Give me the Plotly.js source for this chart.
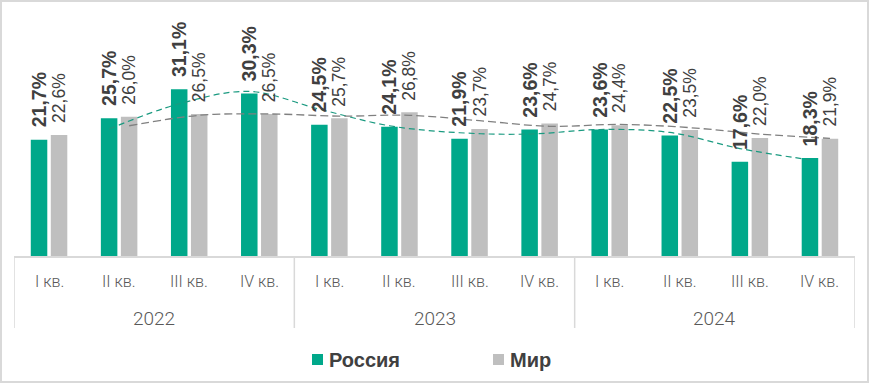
<!DOCTYPE html>
<html>
<head>
<meta charset="utf-8">
<script src="https://cdn.plot.ly/plotly-3.0.1.min.js"></script>
<style>
  html, body { margin: 0; padding: 0; background: #fff; }
  #wrap { position: relative; width: 869px; height: 383px; }
  #chart { width: 869px; height: 383px; }
  #frame { position: absolute; left: 0; top: 0; width: 869px; height: 383px; box-sizing: border-box; border: 2px solid #d9d9d9; pointer-events: none; }
</style>
</head>
<body>
<div id="wrap"><div id="chart"></div><div id="frame"></div></div>
<script>
// ---- data ----
const quarters = ['I кв.', 'II кв.', 'III кв.', 'IV кв.', 'I кв.', 'II кв.', 'III кв.', 'IV кв.', 'I кв.', 'II кв.', 'III кв.', 'IV кв.'];
const years = ['2022', '2023', '2024'];
const seriesNames = ['Россия', 'Мир'];
const russia = [21.7, 25.7, 31.1, 30.3, 24.5, 24.1, 21.9, 23.6, 23.6, 22.5, 17.6, 18.3];
const world  = [22.6, 26.0, 26.5, 26.5, 25.7, 26.8, 23.7, 24.7, 24.4, 23.5, 22.0, 21.9];
// trend lines (2-period moving average as drawn in the picture)
const trendRussia = [null, 23.7, 28.4, 30.7, 27.4, 24.3, 23.0, 22.75, 23.6, 23.05, 20.05, 17.95];
const trendWorld  = [null, 24.3, 26.25, 26.5, 26.1, 26.25, 25.25, 24.2, 24.55, 23.95, 22.75, 21.95];

// ---- styling / layout ----
const teal = '#00A88A', gray = '#BFBFBF';
const txt = '#404040';
const FONT = '"Liberation Sans", Arial, sans-serif';
const LIGHT = 'Roboto, "Liberation Sans", sans-serif';
const idx = quarters.map((_, i) => i);
const off = 0.1427; // half of one bar slot, in category units
const plotL = 14, plotR = 855, plotTopPx = 10, basePx = 256, plotH = basePx - plotTopPx;
const py = px => (basePx - px) / plotH;
const pxX = px => (px - plotL) / (plotR - plotL);
const fmt = v => v.toFixed(1).replace('.', ',') + '%';

const traces = [
  { type: 'bar', name: seriesNames[0], x: idx, y: russia, marker: { color: teal }, hoverinfo: 'skip', showlegend: false },
  { type: 'bar', name: seriesNames[1], x: idx, y: world, marker: { color: gray }, hoverinfo: 'skip', showlegend: false },
  { type: 'scatter', mode: 'lines', x: idx.map(i => i - off), y: trendRussia, showlegend: false, hoverinfo: 'skip',
    line: { color: '#1A9A80', width: 1.2, dash: '6px,4px', shape: 'spline' } },
  { type: 'scatter', mode: 'lines', x: idx.map(i => i + off), y: trendWorld, showlegend: false, hoverinfo: 'skip',
    line: { color: '#808080', width: 1.3, dash: '8px,4px', shape: 'spline' } }
];

const annotations = [];
russia.forEach((v, i) => annotations.push({
  x: i - off, y: v, xref: 'x', yref: 'y', text: '<b>' + fmt(v) + '</b>', showarrow: false,
  textangle: -90, xanchor: 'center', yanchor: 'bottom', yshift: 10,
  font: { family: FONT, size: 19.5, color: txt }
}));
world.forEach((v, i) => annotations.push({
  x: i + off, y: v, xref: 'x', yref: 'y', text: fmt(v), showarrow: false,
  textangle: -90, xanchor: 'center', yanchor: 'bottom', yshift: 10,
  font: { family: FONT, size: 17.5, color: txt }
}));
quarters.forEach((q, i) => annotations.push({
  x: i, y: py(281), xref: 'x', yref: 'paper', text: q, showarrow: false,
  xanchor: 'center', yanchor: 'middle',
  font: { family: LIGHT, size: 16, color: '#595959', weight: 300 }
}));
years.forEach((yv, k) => annotations.push({
  x: k * 4 + 1.5, y: py(318), xref: 'x', yref: 'paper', text: yv, showarrow: false,
  xanchor: 'center', yanchor: 'middle',
  font: { family: LIGHT, size: 19, color: '#595959', weight: 300 }
}));

const shapes = [-0.5, 3.5, 7.5, 11.5].map(xv => ({
  type: 'line', xref: 'x', yref: 'paper', x0: xv, x1: xv, y0: 0, y1: py(328),
  line: { color: '#D9D9D9', width: 1.5 }
}));

// legend (drawn as swatches + texts)
const legendSwatchPx = [312, 493];
const legendColors = [teal, gray];
seriesNames.forEach((nm, k) => {
  const x0 = legendSwatchPx[k];
  shapes.push({ type: 'rect', xref: 'paper', yref: 'paper',
    x0: pxX(x0), x1: pxX(x0 + 11), y0: py(365), y1: py(354),
    line: { width: 0 }, fillcolor: legendColors[k] });
  annotations.push({ x: pxX(x0 + 15), y: py(359.5), xref: 'paper', yref: 'paper', text: '<b>' + nm + '</b>',
    showarrow: false, xanchor: 'left', yanchor: 'middle',
    font: { family: FONT, size: 20, color: txt } });
});

const layout = {
  width: 869, height: 383,
  margin: { l: plotL, r: 869 - plotR, t: plotTopPx, b: 383 - basePx },
  paper_bgcolor: '#fff', plot_bgcolor: '#fff',
  barmode: 'group', bargap: 0.429, bargroupgap: 0.175,
  showlegend: false,
  xaxis: {
    type: 'linear', range: [-0.5, 11.5], showticklabels: false, showgrid: false, zeroline: false,
    showline: true, linecolor: '#D9D9D9', linewidth: 1.5, ticks: '', fixedrange: true
  },
  yaxis: { range: [0, 45.9], visible: false, showgrid: false, zeroline: false, fixedrange: true },
  annotations: annotations,
  shapes: shapes,
  font: { family: FONT, color: txt }
};

Plotly.newPlot('chart', traces, layout, { displayModeBar: false, staticPlot: true });
</script>
</body>
</html>
